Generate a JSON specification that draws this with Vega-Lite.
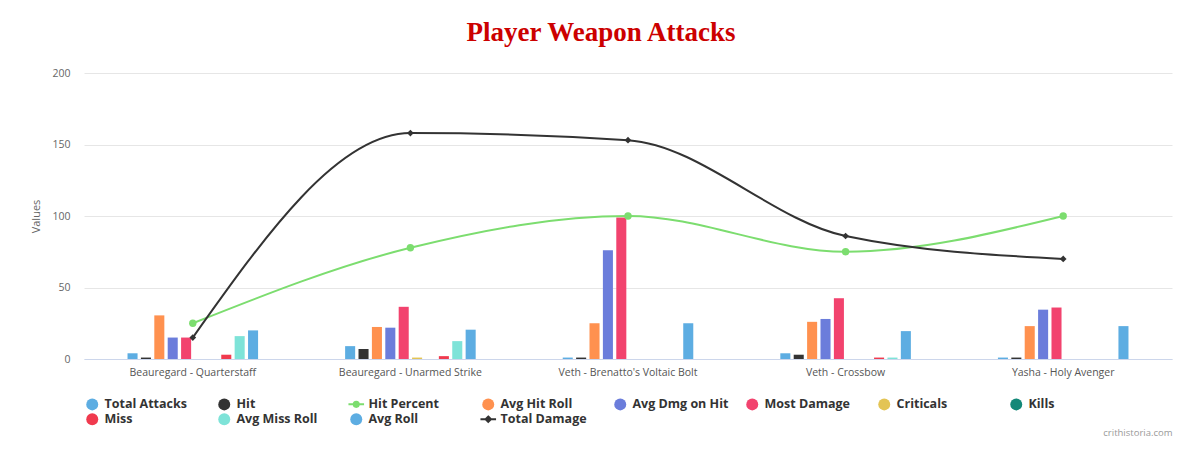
{
  "$schema": "https://vega.github.io/schema/vega-lite/v6.json",
  "width": 1088,
  "height": 286,
  "autosize": {"type": "none"},
  "padding": {"left": 84, "top": 73, "right": 28, "bottom": 99},
  "background": "#ffffff",
  "title": {
    "text": "Player Weapon Attacks",
    "font": "Liberation Serif",
    "fontSize": 27,
    "fontWeight": "bold",
    "color": "#CC0000",
    "anchor": "middle",
    "dx": -27,
    "offset": 21
  },
  "data": {
    "values": [
      {"weapon": "Beauregard - Quarterstaff", "series": "Total Attacks", "value": 4},
      {"weapon": "Beauregard - Quarterstaff", "series": "Hit", "value": 1},
      {"weapon": "Beauregard - Quarterstaff", "series": "Hit Percent", "value": 25},
      {"weapon": "Beauregard - Quarterstaff", "series": "Avg Hit Roll", "value": 30.5},
      {"weapon": "Beauregard - Quarterstaff", "series": "Avg Dmg on Hit", "value": 15},
      {"weapon": "Beauregard - Quarterstaff", "series": "Most Damage", "value": 15},
      {"weapon": "Beauregard - Quarterstaff", "series": "Miss", "value": 3},
      {"weapon": "Beauregard - Quarterstaff", "series": "Avg Miss Roll", "value": 16},
      {"weapon": "Beauregard - Quarterstaff", "series": "Avg Roll", "value": 20},
      {"weapon": "Beauregard - Quarterstaff", "series": "Total Damage", "value": 15},

      {"weapon": "Beauregard - Unarmed Strike", "series": "Total Attacks", "value": 9},
      {"weapon": "Beauregard - Unarmed Strike", "series": "Hit", "value": 7},
      {"weapon": "Beauregard - Unarmed Strike", "series": "Hit Percent", "value": 77.8},
      {"weapon": "Beauregard - Unarmed Strike", "series": "Avg Hit Roll", "value": 22.4},
      {"weapon": "Beauregard - Unarmed Strike", "series": "Avg Dmg on Hit", "value": 21.9},
      {"weapon": "Beauregard - Unarmed Strike", "series": "Most Damage", "value": 36.5},
      {"weapon": "Beauregard - Unarmed Strike", "series": "Criticals", "value": 1},
      {"weapon": "Beauregard - Unarmed Strike", "series": "Miss", "value": 2},
      {"weapon": "Beauregard - Unarmed Strike", "series": "Avg Miss Roll", "value": 12.5},
      {"weapon": "Beauregard - Unarmed Strike", "series": "Avg Roll", "value": 20.5},
      {"weapon": "Beauregard - Unarmed Strike", "series": "Total Damage", "value": 158},

      {"weapon": "Veth - Brenatto's Voltaic Bolt", "series": "Total Attacks", "value": 1},
      {"weapon": "Veth - Brenatto's Voltaic Bolt", "series": "Hit", "value": 1},
      {"weapon": "Veth - Brenatto's Voltaic Bolt", "series": "Hit Percent", "value": 100},
      {"weapon": "Veth - Brenatto's Voltaic Bolt", "series": "Avg Hit Roll", "value": 25},
      {"weapon": "Veth - Brenatto's Voltaic Bolt", "series": "Avg Dmg on Hit", "value": 76},
      {"weapon": "Veth - Brenatto's Voltaic Bolt", "series": "Most Damage", "value": 99},
      {"weapon": "Veth - Brenatto's Voltaic Bolt", "series": "Avg Roll", "value": 25},
      {"weapon": "Veth - Brenatto's Voltaic Bolt", "series": "Total Damage", "value": 153},

      {"weapon": "Veth - Crossbow", "series": "Total Attacks", "value": 4},
      {"weapon": "Veth - Crossbow", "series": "Hit", "value": 3},
      {"weapon": "Veth - Crossbow", "series": "Hit Percent", "value": 75},
      {"weapon": "Veth - Crossbow", "series": "Avg Hit Roll", "value": 26},
      {"weapon": "Veth - Crossbow", "series": "Avg Dmg on Hit", "value": 28},
      {"weapon": "Veth - Crossbow", "series": "Most Damage", "value": 42.5},
      {"weapon": "Veth - Crossbow", "series": "Miss", "value": 1},
      {"weapon": "Veth - Crossbow", "series": "Avg Miss Roll", "value": 1},
      {"weapon": "Veth - Crossbow", "series": "Avg Roll", "value": 19.5},
      {"weapon": "Veth - Crossbow", "series": "Total Damage", "value": 86},

      {"weapon": "Yasha - Holy Avenger", "series": "Total Attacks", "value": 1},
      {"weapon": "Yasha - Holy Avenger", "series": "Hit", "value": 1},
      {"weapon": "Yasha - Holy Avenger", "series": "Hit Percent", "value": 100},
      {"weapon": "Yasha - Holy Avenger", "series": "Avg Hit Roll", "value": 23},
      {"weapon": "Yasha - Holy Avenger", "series": "Avg Dmg on Hit", "value": 34.5},
      {"weapon": "Yasha - Holy Avenger", "series": "Most Damage", "value": 36},
      {"weapon": "Yasha - Holy Avenger", "series": "Avg Roll", "value": 23},
      {"weapon": "Yasha - Holy Avenger", "series": "Total Damage", "value": 70}
    ]
  },
  "encoding": {
    "x": {
      "field": "weapon",
      "type": "nominal",
      "sort": null,
      "scale": {"paddingInner": 0.4, "paddingOuter": 0.2},
      "axis": {
        "title": "crithistoria.com",
        "titleAnchor": "end",
        "titleFont": "Open Sans",
        "titleFontSize": 9.5,
        "titleFontWeight": "normal",
        "titleColor": "#999999",
        "titlePadding": 50,
        "labelAngle": 0,
        "labelFont": "Open Sans",
        "labelFontSize": 10.5,
        "labelColor": "#555555",
        "labelPadding": 8,
        "ticks": false,
        "domainColor": "#ccd6eb",
        "grid": false
      }
    },
    "y": {
      "field": "value",
      "type": "quantitative",
      "scale": {"domain": [0, 200]},
      "axis": {
        "title": "Values",
        "titleFont": "Open Sans",
        "titleFontSize": 11,
        "titleFontWeight": "normal",
        "titleColor": "#666666",
        "titlePadding": 10,
        "values": [0, 50, 100, 150, 200],
        "labelFont": "Open Sans",
        "labelFontSize": 10.5,
        "labelColor": "#666666",
        "labelPadding": 14,
        "ticks": false,
        "domain": false,
        "gridColor": "#e6e6e6"
      }
    },
    "color": {
      "field": "series",
      "type": "nominal",
      "scale": {
        "domain": ["Total Attacks", "Hit", "Hit Percent", "Avg Hit Roll", "Avg Dmg on Hit", "Most Damage", "Criticals", "Kills", "Miss", "Avg Miss Roll", "Avg Roll", "Total Damage"],
        "range": ["#5DADE2", "#333333", "#7CDD6F", "#FF914F", "#6B7DDB", "#F2436E", "#E3C454", "#138878", "#F03A4E", "#7EE3D8", "#5DADE2", "#333333"]
      },
      "legend": {
        "title": null,
        "orient": "none",
        "legendX": 2,
        "legendY": 325,
        "direction": "horizontal",
        "columns": 8,
        "gridAlign": "all",
        "columnPadding": 11,
        "rowPadding": 1,
        "labelFont": "Open Sans",
        "labelFontSize": 12.5,
        "labelFontWeight": "bold",
        "labelColor": "#333333",
        "labelOffset": 6,
        "symbolSize": 144,
        "encode": {
          "symbols": {
            "update": {
              "shape": {"signal": "datum.value === 'Hit Percent' ? 'M-1.3,0L1.3,0M-0.42,0A0.42,0.42,0,1,1,0.42,0A0.42,0.42,0,1,1,-0.42,0Z' : datum.value === 'Total Damage' ? 'M-1.3,0L1.3,0M0,-0.45L0.45,0L0,0.45L-0.45,0Z' : 'circle'"},
              "fill": {"signal": "scale('color', datum.value)"},
              "stroke": {"signal": "scale('color', datum.value)"},
              "strokeWidth": {"signal": "datum.value === 'Hit Percent' || datum.value === 'Total Damage' ? 2 : 0"},
              "opacity": {"value": 1},
              "fillOpacity": {"value": 1}
            }
          }
        }
      }
    }
  },
  "layer": [
    {
      "transform": [{"filter": "datum.series !== 'Hit Percent' && datum.series !== 'Total Damage'"}],
      "mark": {"type": "bar"},
      "encoding": {
        "xOffset": {
          "field": "series",
          "type": "nominal",
          "scale": {
            "domain": ["Total Attacks", "Hit", "Avg Hit Roll", "Avg Dmg on Hit", "Most Damage", "Criticals", "Kills", "Miss", "Avg Miss Roll", "Avg Roll"],
            "paddingInner": 0.25,
            "paddingOuter": 0
          }
        }
      }
    },
    {
      "transform": [{"filter": "datum.series === 'Hit Percent'"}],
      "mark": {"type": "line", "interpolate": "monotone", "strokeWidth": 2, "point": {"filled": true, "shape": "circle", "size": 55, "opacity": 1}}
    },
    {
      "transform": [{"filter": "datum.series === 'Total Damage'"}],
      "mark": {"type": "line", "interpolate": "monotone", "strokeWidth": 2, "point": {"filled": true, "shape": "diamond", "size": 45, "opacity": 1}}
    }
  ],
  "config": {
    "view": {"stroke": null},
    "bar": {"opacity": 1}
  }
}
